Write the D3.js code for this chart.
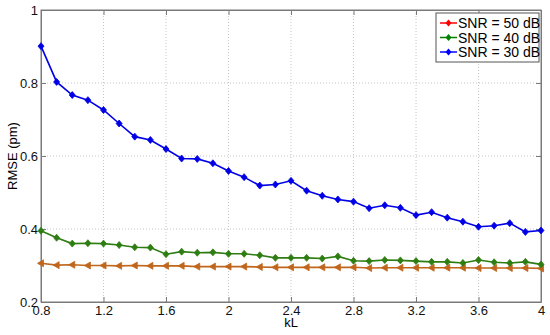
<!DOCTYPE html>
<html>
<head>
<meta charset="utf-8">
<script src="https://cdn.jsdelivr.net/npm/d3@7"></script>
<style>
	body { margin: 0; background: #fff; }
	text { font-family: "Liberation Sans", Arial, sans-serif; }
</style>
</head>
<body>
<div id="chart"></div>
<script>
// kL values, 0.8 .. 4.0 step 0.1
const kL = [0.8, 0.9, 1.0, 1.1, 1.2, 1.3, 1.4, 1.5, 1.6, 1.7, 1.8, 1.9, 2.0, 2.1, 2.2, 2.3, 2.4,
	2.5, 2.6, 2.7, 2.8, 2.9, 3.0, 3.1, 3.2, 3.3, 3.4, 3.5, 3.6, 3.7, 3.8, 3.9, 4.0];

const snr50 = [0.306, 0.301, 0.302, 0.300, 0.300, 0.299, 0.300, 0.299, 0.299, 0.299, 0.297, 0.297,
	0.297, 0.297, 0.296, 0.295, 0.295, 0.295, 0.295, 0.295, 0.295, 0.293, 0.294, 0.294, 0.294,
	0.294, 0.294, 0.294, 0.293, 0.293, 0.293, 0.293, 0.292];
const snr40 = [0.395, 0.376, 0.360, 0.361, 0.360, 0.356, 0.350, 0.349, 0.331, 0.338, 0.335, 0.336,
	0.332, 0.332, 0.328, 0.321, 0.321, 0.321, 0.319, 0.325, 0.313, 0.312, 0.315, 0.314, 0.312,
	0.310, 0.310, 0.307, 0.315, 0.309, 0.307, 0.310, 0.303];
const snr30 = [0.901, 0.803, 0.767, 0.753, 0.726, 0.689, 0.653, 0.644, 0.619, 0.593, 0.592, 0.580,
	0.559, 0.542, 0.519, 0.522, 0.532, 0.505, 0.491, 0.481, 0.475, 0.457, 0.465, 0.458, 0.438,
	0.446, 0.431, 0.420, 0.406, 0.409, 0.416, 0.392, 0.396];

const xTicks = [0.8, 1.2, 1.6, 2, 2.4, 2.8, 3.2, 3.6, 4];
const yTicks = [0.2, 0.4, 0.6, 0.8, 1];

const series = [
	{ label: 'SNR = 50 dB', values: snr50, color: '#c0661c', legendColor: '#ff0000', marker: 'tri' },
	{ label: 'SNR = 40 dB', values: snr40, color: '#2e7d12', legendColor: '#008000', marker: 'dia' },
	{ label: 'SNR = 30 dB', values: snr30, color: '#0000e6', legendColor: '#0000ff', marker: 'dia' }
];

const width = 550, height = 335;
const margin = { top: 10, right: 9, bottom: 33, left: 41 };
const w = width - margin.left - margin.right;
const h = height - margin.top - margin.bottom;

const svg = d3.select('#chart')
	.append('svg')
	.attr('width', width)
	.attr('height', height);

const g = svg.append('g')
	.attr('transform', `translate(${margin.left}, ${margin.top})`);

const x = d3.scaleLinear().domain([0.8, 4]).range([0, w]);
const y = d3.scaleLinear().domain([0.2, 1]).range([h, 0]);

// grid
g.append('g')
	.selectAll('line')
	.data(xTicks.slice(1, -1))
	.join('line')
	.attr('x1', (d) => x(d)).attr('x2', (d) => x(d))
	.attr('y1', 0).attr('y2', h)
	.attr('stroke', '#b8b8b8')
	.attr('stroke-width', 0.8)
	.attr('stroke-dasharray', '1,2');

g.append('g')
	.selectAll('line')
	.data(yTicks.slice(1, -1))
	.join('line')
	.attr('x1', 0).attr('x2', w)
	.attr('y1', (d) => y(d)).attr('y2', (d) => y(d))
	.attr('stroke', '#b8b8b8')
	.attr('stroke-width', 0.8)
	.attr('stroke-dasharray', '1,2');

// axes
g.append('g')
	.attr('transform', `translate(0, ${h})`)
	.call(d3.axisBottom(x).tickValues(xTicks).tickSizeInner(-5).tickSizeOuter(0).tickPadding(4).tickFormat(d3.format('')));
g.append('g')
	.call(d3.axisLeft(y).tickValues(yTicks).tickSizeInner(-5).tickSizeOuter(0).tickPadding(3).tickFormat(d3.format('')));
g.append('g')
	.call(d3.axisTop(x).tickValues(xTicks).tickSizeInner(-5).tickSizeOuter(0).tickFormat(''));
g.append('g')
	.attr('transform', `translate(${w}, 0)`)
	.call(d3.axisRight(y).tickValues(yTicks).tickSizeInner(-5).tickSizeOuter(0).tickFormat(''));

g.selectAll('.domain').attr('stroke', '#7a7a7a');
g.selectAll('.tick line').attr('stroke', '#7a7a7a');
g.selectAll('.tick text').attr('font-size', 13).attr('fill', '#111');

// frame
g.append('rect')
	.attr('width', w).attr('height', h)
	.attr('fill', 'none')
	.attr('stroke', '#7a7a7a');

// axis labels
svg.append('text')
	.attr('x', margin.left + w / 2)
	.attr('y', 327)
	.attr('text-anchor', 'middle')
	.attr('font-size', 13)
	.text('kL');

svg.append('text')
	.attr('transform', `translate(17, ${margin.top + h / 2}) rotate(-90)`)
	.attr('text-anchor', 'middle')
	.attr('font-size', 13)
	.text('RMSE (pm)');

// lines and markers
const line = d3.line()
	.x((d, i) => x(kL[i]))
	.y((d) => y(d));

const triPath = 'M-3.5,0L2.5,-3.5L2.5,3.5Z';
const diaPath = 'M0,-3.5L3,0L0,3.5L-3,0Z';

series.forEach((s) => {
	g.append('path')
		.datum(s.values)
		.attr('fill', 'none')
		.attr('stroke', s.color)
		.attr('stroke-width', 1.6)
		.attr('d', line);

	g.append('g')
		.selectAll('path')
		.data(s.values)
		.join('path')
		.attr('transform', (d, i) => `translate(${x(kL[i])}, ${y(d)})`)
		.attr('d', s.marker === 'tri' ? triPath : diaPath)
		.attr('fill', s.color)
		.attr('stroke', s.color)
		.attr('stroke-width', 0.8);
});

// legend
const legend = svg.append('g').attr('transform', 'translate(436, 13)');
legend.append('rect')
	.attr('width', 103).attr('height', 49)
	.attr('fill', '#fff')
	.attr('stroke', '#555');

series.forEach((s, i) => {
	const ly = 10 + i * 14.5;
	legend.append('line')
		.attr('x1', 4).attr('x2', 21)
		.attr('y1', ly).attr('y2', ly)
		.attr('stroke', s.legendColor)
		.attr('stroke-width', 1.5);
	legend.append('path')
		.attr('transform', `translate(12.5, ${ly})`)
		.attr('d', diaPath)
		.attr('fill', s.legendColor);
	legend.append('text')
		.attr('x', 22)
		.attr('y', ly + 5)
		.attr('font-size', 14)
		.text(s.label);
});
</script>
</body>
</html>
